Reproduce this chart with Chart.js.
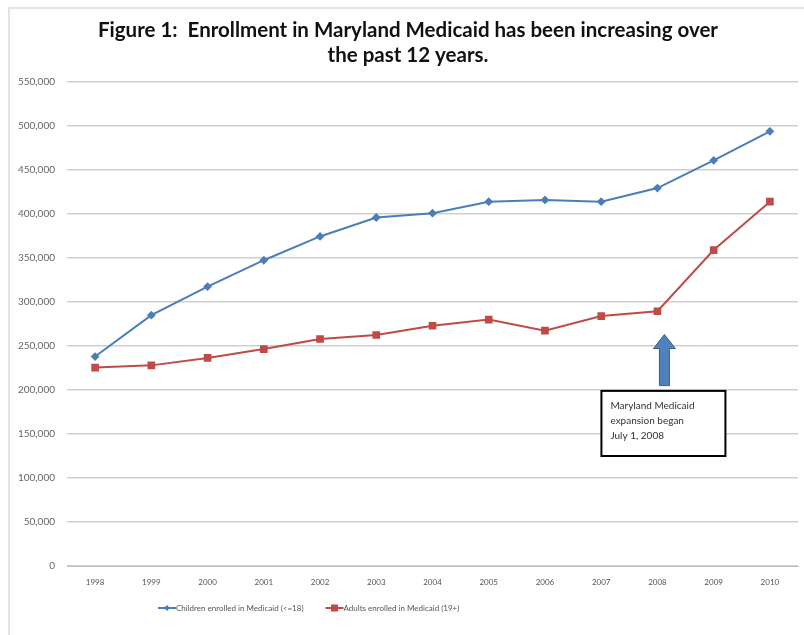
<!DOCTYPE html>
<html lang="en">
<head>
    <meta charset="UTF-8">
    <title>Maryland Medicaid Enrollment</title>
    <style>
        html, body { margin: 0; padding: 0; background: #fff; }
        .frame { position: relative; width: 804px; height: 635px; }
        .frame .edge { position: absolute; left: 8px; top: 7px; right: 0; bottom: 0; border-top: 2px solid #e4e4e4; border-left: 2px solid #e4e4e4; pointer-events: none; }
        canvas { display: block; }
    </style>
</head>
<body>
    <div class="frame">
        <canvas id="medicaidChart" width="804" height="635"></canvas>
        <div class="edge"></div>
    </div>

    <script src="https://cdn.jsdelivr.net/npm/chart.js"></script>
    <script>
        // Values
        const years = ['1998', '1999', '2000', '2001', '2002', '2003', '2004', '2005', '2006', '2007', '2008', '2009', '2010'];
        const children = [238000, 285000, 317500, 347500, 374500, 396000, 401000, 414000, 416000, 414000, 429500, 461000, 494000];
        const adults = [225500, 228000, 236500, 246500, 258000, 262500, 273000, 280000, 267500, 284000, 289500, 359000, 414000];
        const yTicks = [0, 50000, 100000, 150000, 200000, 250000, 300000, 350000, 400000, 450000, 500000, 550000];
        const titleLines = ['Figure 1:  Enrollment in Maryland Medicaid has been increasing over', 'the past 12 years.'];
        const seriesNames = ['Children enrolled in Medicaid (<=18)', 'Adults enrolled in Medicaid (19+)'];
        const noteLines = ['Maryland Medicaid', 'expansion began', 'July 1, 2008'];
        const noteYear = '2008';

        const blue = '#4a7ebb';
        const red = '#be4b48';

        function marker(ctx, style, x, y) {
            if (style === 'rect') {
                ctx.fillRect(x - 3.5, y - 3.5, 7, 7);
            } else {
                ctx.beginPath();
                ctx.moveTo(x, y - 3); ctx.lineTo(x + 3, y); ctx.lineTo(x, y + 3); ctx.lineTo(x - 3, y);
                ctx.closePath();
                ctx.fill();
            }
        }

        // legend sits left of centre in the original, so it is drawn here
        const offsetLegend = {
            id: 'offsetLegend',
            afterDraw(chart) {
                const { ctx, chartArea } = chart;
                const y = chartArea.bottom + 42;
                const styles = ['rectRot', 'rect'];
                let x = 158;
                ctx.save();
                ctx.font = '8px Lato';
                ctx.textBaseline = 'middle';
                chart.data.datasets.forEach((ds, i) => {
                    ctx.strokeStyle = ds.borderColor;
                    ctx.fillStyle = ds.borderColor;
                    ctx.lineWidth = 2;
                    ctx.beginPath(); ctx.moveTo(x, y); ctx.lineTo(x + 18, y); ctx.stroke();
                    marker(ctx, styles[i], x + 9, y);
                    ctx.fillStyle = '#555';
                    ctx.fillText(ds.label, x + 18, y);
                    x += 18 + ctx.measureText(ds.label).width + 22;
                });
                ctx.restore();
            }
        };

        // arrow + text box marking the 2008 expansion
        const expansionNote = {
            id: 'expansionNote',
            afterDatasetsDraw(chart) {
                const { ctx, scales: { x, y } } = chart;
                const cx = x.getPixelForValue(years.indexOf(noteYear)) + 7;
                const top = y.getPixelForValue(263000);
                const bottom = y.getPixelForValue(205000);
                ctx.save();
                ctx.fillStyle = '#4f81bd';
                ctx.strokeStyle = '#385d8a';
                ctx.lineWidth = 1;
                ctx.beginPath();
                ctx.moveTo(cx, top);
                ctx.lineTo(cx + 11, top + 14);
                ctx.lineTo(cx + 5, top + 14);
                ctx.lineTo(cx + 5, bottom);
                ctx.lineTo(cx - 5, bottom);
                ctx.lineTo(cx - 5, top + 14);
                ctx.lineTo(cx - 11, top + 14);
                ctx.closePath();
                ctx.fill();
                ctx.stroke();

                const bx = cx - 63;
                const by = y.getPixelForValue(199000);
                const bw = 124;
                const bh = y.getPixelForValue(125000) - by;
                ctx.fillStyle = '#fff';
                ctx.fillRect(bx, by, bw, bh);
                ctx.strokeStyle = '#000';
                ctx.lineWidth = 2;
                ctx.strokeRect(bx, by, bw, bh);
                ctx.fillStyle = '#333';
                ctx.font = '10px Lato';
                ctx.textBaseline = 'middle';
                noteLines.forEach((t, i) => ctx.fillText(t, bx + 9, by + 15 + i * 15));
                ctx.restore();
            }
        };

        new Chart(document.getElementById('medicaidChart'), {
            type: 'line',
            data: {
                labels: years,
                datasets: [
                    {
                        label: seriesNames[0],
                        data: children,
                        borderColor: blue,
                        backgroundColor: blue,
                        borderWidth: 2,
                        pointStyle: 'rectRot',
                        pointRadius: 3,
                        tension: 0
                    },
                    {
                        label: seriesNames[1],
                        data: adults,
                        borderColor: red,
                        backgroundColor: red,
                        borderWidth: 2,
                        pointStyle: 'rect',
                        pointRadius: 4,
                        tension: 0
                    }
                ]
            },
            options: {
                responsive: false,
                animation: false,
                layout: { padding: { left: 14, right: 2, top: 0, bottom: 45 } },
                plugins: {
                    title: {
                        display: true,
                        text: titleLines,
                        color: '#111',
                        font: { family: 'Lato', size: 20.5, weight: 'bold', lineHeight: 1.22 },
                        padding: { top: 18, bottom: 14 }
                    },
                    legend: { display: false },
                    tooltip: { enabled: false }
                },
                scales: {
                    x: {
                        offset: true,
                        grid: { display: false },
                        border: { color: '#bfbfbf', width: 1 },
                        ticks: { color: '#555', font: { family: 'Lato', size: 8 }, padding: 4, maxRotation: 0 },
                        afterFit(scale) { scale.height = 24; }
                    },
                    y: {
                        min: 0,
                        max: 550000,
                        afterBuildTicks(scale) { scale.ticks = yTicks.map(v => ({ value: v })); },
                        grid: { color: '#cfcfcf', lineWidth: 1.5, drawTicks: false },
                        border: { display: false },
                        ticks: {
                            color: '#666',
                            font: { family: 'Lato', size: 10 },
                            padding: 12,
                            callback: v => v.toLocaleString('en-US')
                        },
                        afterFit(scale) { scale.width = 53; }
                    }
                }
            },
            plugins: [expansionNote, offsetLegend]
        });
    </script>
</body>
</html>
